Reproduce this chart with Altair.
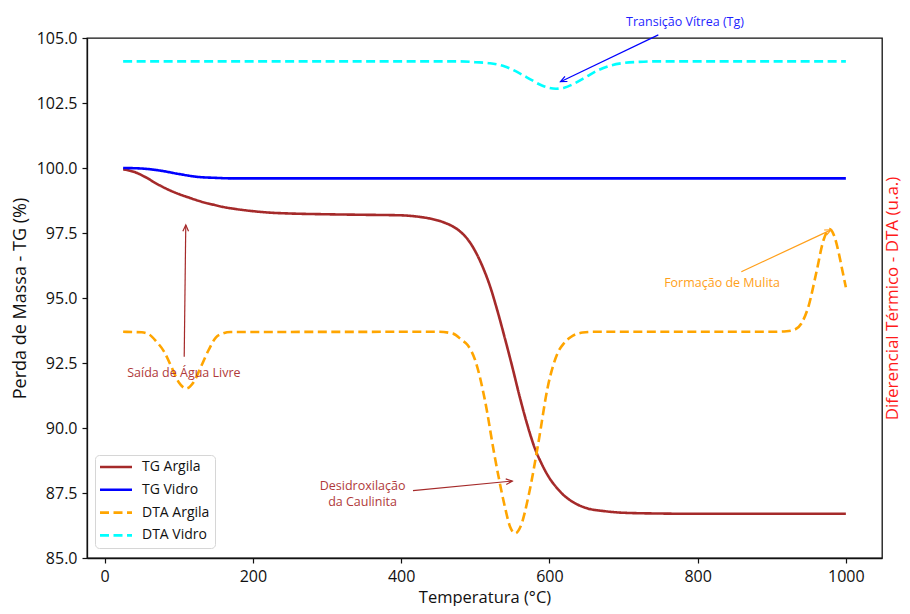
import math
import altair as alt
import pandas as pd

FONT = "Open Sans"

# ---------------- data ----------------
series_names = ["TG Argila", "TG Vidro", "DTA Argila", "DTA Vidro"]
series_colors = ["#a52a2a", "#0000ff", "#ffa500", "#00ffff"]

tg_argila_T = [25, 40, 55, 70, 85, 100, 115, 130, 145, 160, 175, 200, 225, 250, 300, 350,
               400, 425, 440, 450, 460, 470, 480, 490, 500, 510, 520, 530, 540, 550, 560,
               570, 580, 590, 600, 610, 620, 635, 650, 675, 700, 750, 800, 1000]
tg_argila_v = [99.95, 99.85, 99.65, 99.4, 99.18, 99.0, 98.85, 98.71, 98.6, 98.5, 98.43,
               98.34, 98.28, 98.25, 98.22, 98.2,
               98.18, 98.12, 98.05, 97.98, 97.88, 97.75, 97.55, 97.25, 96.8, 96.2, 95.45,
               94.5, 93.45, 92.35, 91.2, 90.15, 89.25, 88.6, 88.08, 87.7, 87.4, 87.1, 86.92,
               86.8, 86.74, 86.71, 86.7, 86.7]

tg_vidro_T = [25, 50, 75, 100, 125, 150, 175, 200, 1000]
tg_vidro_v = [100.0, 99.98, 99.9, 99.77, 99.66, 99.62, 99.6, 99.6, 99.6]

dta_argila_T = [25, 50, 60, 70, 80, 90, 100, 110, 120, 130, 140, 150, 160, 170,
                450, 470, 482, 490, 500, 513, 526, 540, 547, 554, 561, 572, 585, 598,
                611, 620, 629, 645, 660,
                900, 920, 930, 940, 950, 960, 970, 978, 985, 990, 995, 1000]
dta_argila_v = [93.7, 93.68, 93.6, 93.32, 92.95, 92.36, 91.76, 91.52, 91.76, 92.36, 92.98,
                93.48, 93.64, 93.69,
                93.7, 93.63, 93.38, 93.18, 92.6, 91.08, 88.95, 86.97, 86.2, 85.95, 86.2,
                87.4, 89.4, 91.6, 92.87, 93.27, 93.5, 93.67, 93.7,
                93.7, 93.72, 93.77, 94.02, 94.72, 95.96, 97.24, 97.65, 97.33, 96.78, 96.1,
                95.41]

dta_vidro_T = [25, 480, 500, 520, 540, 560, 575, 590, 600, 609, 620, 635, 650, 665, 680,
               700, 720, 740, 1000]
dta_vidro_v = [104.1, 104.1, 104.07, 104.03, 103.9, 103.64, 103.4, 103.17, 103.08, 103.05,
               103.09, 103.27, 103.51, 103.75, 103.92, 104.04, 104.08, 104.1, 104.1]

x_ticks = [0, 200, 400, 600, 800, 1000]
y_ticks = [85.0, 87.5, 90.0, 92.5, 95.0, 97.5, 100.0, 102.5, 105.0]
x_domain = [-23.75, 1048.75]
y_domain = [85.0, 105.0]

# annotations
ann_text = ["Transição Vítrea (Tg)", "Formação de Mulita", "Saída de Água Livre",
            "Desidroxilação\nda Caulinita"]
ann_x = [783, 833, 107, 348]
ann_y = [105.62, 95.58, 92.12, 87.76]
ann_color = ["#1f1fff", "#ff9f1a", "#b03a3a", "#b03a3a"]

arrow_x0 = [747, 859, 107.4, 416]
arrow_y0 = [105.12, 96.01, 92.74, 87.59]
arrow_x1 = [615, 980, 109.5, 550]
arrow_y1 = [103.32, 97.62, 97.81, 87.96]
arrow_color = ["#0000ff", "#ff9f1a", "#a52a2a", "#a52a2a"]

# ---------------- layout ----------------
W, H = 795, 520
sx = W / (x_domain[1] - x_domain[0])
sy = H / (y_domain[1] - y_domain[0])

rows = []
for name, Ts, vs in [("TG Argila", tg_argila_T, tg_argila_v),
                     ("TG Vidro", tg_vidro_T, tg_vidro_v),
                     ("DTA Argila", dta_argila_T, dta_argila_v),
                     ("DTA Vidro", dta_vidro_T, dta_vidro_v)]:
    for t, v in zip(Ts, vs):
        rows.append({"T": t, "v": v, "serie": name})
df = pd.DataFrame(rows)

ann_df = pd.DataFrame({"x": ann_x, "y": ann_y, "t": ann_text, "c": ann_color})

angles = []
for a, b, c, d in zip(arrow_x0, arrow_y0, arrow_x1, arrow_y1):
    ang = math.degrees(math.atan2((c - a) * sx, (d - b) * sy)) % 360
    angles.append(ang)
arr_df = pd.DataFrame({"x0": arrow_x0, "y0": arrow_y0, "x1": arrow_x1, "y1": arrow_y1,
                       "c": arrow_color, "ang": angles})

xscale = alt.Scale(domain=x_domain, nice=False, zero=False)
yscale = alt.Scale(domain=y_domain, nice=False, zero=False)

legend = alt.Legend(title=None, orient="none", legendX=8, legendY=417,
                    symbolType="M -1.4 0 L 5 0", symbolSize=100, symbolStrokeWidth=2.5,
                    labelFontSize=14, labelFont=FONT, labelColor="#111",
                    padding=5, rowPadding=8.8, labelOffset=28,
                    strokeColor="#d6d6d6", fillColor="white", cornerRadius=4)

lines = alt.Chart(df).mark_line(interpolate="monotone").encode(
    x=alt.X("T:Q", scale=xscale,
            axis=alt.Axis(values=x_ticks, title="Temperatura (°C)", format="d")),
    y=alt.Y("v:Q", scale=yscale,
            axis=alt.Axis(values=y_ticks, format=".1f", title="Perda de Massa - TG (%)",
                          orient="left")),
    color=alt.Color("serie:N",
                    scale=alt.Scale(domain=series_names, range=series_colors),
                    legend=legend),
    strokeDash=alt.StrokeDash("serie:N",
                              scale=alt.Scale(domain=series_names,
                                              range=[[1, 0], [1, 0], [9, 4.5], [9, 4.5]]),
                              legend=legend),
    strokeWidth=alt.StrokeWidth("serie:N",
                                scale=alt.Scale(domain=series_names,
                                                range=[2.6, 2.6, 2, 2]),
                                legend=None),
    order=alt.Order("T:Q"),
)

right_axis = alt.Chart(df).mark_line(opacity=0).encode(
    x=alt.X("T:Q", scale=xscale, axis=None),
    y=alt.Y("v:Q", scale=yscale,
            axis=alt.Axis(orient="right", title="Diferencial Térmico - DTA (u.a.)",
                          labels=False, ticks=False, domain=False, titleColor="#ff1a1a",
                          titleAngle=270, titleBaseline="top", titlePadding=2,
                          titleFontSize=17)),
)

arrow_lines = alt.Chart(arr_df).mark_rule(strokeWidth=1.2).encode(
    x=alt.X("x0:Q", scale=xscale, axis=None),
    y=alt.Y("y0:Q", scale=yscale, axis=None),
    x2="x1:Q", y2="y1:Q",
    color=alt.Color("c:N", scale=None),
)

arrow_heads = alt.Chart(arr_df).mark_point(
    shape="M -0.45 1 L 0 0 L 0.45 1", filled=False, size=160, strokeWidth=1.2,
    opacity=1).encode(
    x=alt.X("x1:Q", scale=xscale, axis=None),
    y=alt.Y("y1:Q", scale=yscale, axis=None),
    angle=alt.Angle("ang:Q", scale=None),
    color=alt.Color("c:N", scale=None),
)

texts = alt.Chart(ann_df).mark_text(fontSize=12.5, font=FONT, lineBreak="\n",
                                    lineHeight=16, align="center",
                                    baseline="middle").encode(
    x=alt.X("x:Q", scale=xscale, axis=None),
    y=alt.Y("y:Q", scale=yscale, axis=None),
    text="t:N",
    color=alt.Color("c:N", scale=None),
)

chart = alt.layer(lines, right_axis, arrow_lines, arrow_heads, texts).resolve_axis(
    x="independent", y="independent"
).properties(
    width=W, height=H,
    autosize=alt.AutoSizeParams(type="none"),
    padding={"left": 79, "top": 30, "right": 20, "bottom": 48},
).configure_view(
    stroke="#111", strokeWidth=1.3
).configure_axis(
    labelFont=FONT, titleFont=FONT, labelFontSize=16, titleFontSize=18,
    titleFontWeight="normal", labelColor="#111", titleColor="#111",
    domainColor="#111", tickColor="#111", domainWidth=1.3, tickSize=5, tickWidth=1.2,
    labelPadding=5, grid=False,
).configure_axisX(titlePadding=5, titleFontSize=16.5).configure_axisLeft(titlePadding=7)

chart.save("out.html", embed_options={"renderer": "svg", "actions": False})
